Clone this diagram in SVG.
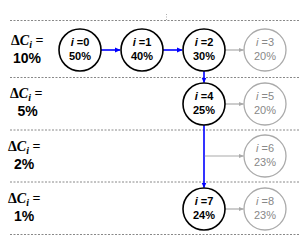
<svg xmlns="http://www.w3.org/2000/svg" width="299" height="248" viewBox="0 0 299 248">
<style>
.dash{stroke:#888;stroke-width:1;stroke-dasharray:2,1.5;fill:none}
.lbl{font-family:"Liberation Serif",serif;font-size:14px;font-weight:bold;fill:#000}
.pct{font-family:"Liberation Sans",Arial,sans-serif;font-size:14px;font-weight:bold;fill:#000;text-anchor:middle}
.nb circle{fill:#fff;stroke:#000;stroke-width:1.6}
.nb text{font-family:"Liberation Sans",Arial,sans-serif;font-size:11px;font-weight:bold;fill:#000;text-anchor:middle}
.ng circle{fill:#fff;stroke:#aaa;stroke-width:1.3}
.ng text{font-family:"Liberation Sans",Arial,sans-serif;font-size:11px;fill:#888;text-anchor:middle}
.blue{stroke:#0000ff;stroke-width:1.6;fill:none}
.gray{stroke:#aaa;stroke-width:1.2;fill:none}
</style>
<defs>
<marker id="ab" markerWidth="6" markerHeight="6" refX="5" refY="3" orient="auto" markerUnits="userSpaceOnUse"><path d="M0,0.5 L5.5,3 L0,5.5 Z" fill="#0000ff"/></marker>
<marker id="ag" markerWidth="6" markerHeight="6" refX="5" refY="3" orient="auto" markerUnits="userSpaceOnUse"><path d="M0,0.8 L5.5,3 L0,5.2 Z" fill="#aaa"/></marker>
</defs>
<g id="grid">
<line class="dash" x1="10" y1="20.5" x2="299" y2="20.5"/>
<line class="dash" x1="10" y1="77.5" x2="299" y2="77.5"/>
<line class="dash" x1="10" y1="130" x2="299" y2="130"/>
<line class="dash" x1="10" y1="182" x2="299" y2="182"/>
<line class="dash" x1="10" y1="234.5" x2="299" y2="234.5"/>
<line x1="166.5" y1="14" x2="166.5" y2="20" stroke="#999" stroke-width="0.8" stroke-dasharray="1,1.5"/>
</g>
<g id="labels">
<text class="lbl" x="11" y="45">Δ<tspan font-style="italic">C</tspan><tspan font-style="italic" font-size="10" dy="3">i</tspan><tspan dy="-3"> =</tspan></text>
<text class="pct" x="27" y="63">10%</text>
<text class="lbl" x="10" y="98">Δ<tspan font-style="italic">C</tspan><tspan font-style="italic" font-size="10" dy="3">i</tspan><tspan dy="-3"> =</tspan></text>
<text class="pct" x="27.5" y="116">5%</text>
<text class="lbl" x="8" y="151">Δ<tspan font-style="italic">C</tspan><tspan font-style="italic" font-size="10" dy="3">i</tspan><tspan dy="-3"> =</tspan></text>
<text class="pct" x="24" y="169">2%</text>
<text class="lbl" x="8" y="203">Δ<tspan font-style="italic">C</tspan><tspan font-style="italic" font-size="10" dy="3">i</tspan><tspan dy="-3"> =</tspan></text>
<text class="pct" x="24" y="221">1%</text>
</g>
<g id="connectors">
<line class="blue" x1="101" y1="50" x2="120" y2="50" marker-end="url(#ab)"/>
<line class="blue" x1="163" y1="50" x2="182" y2="50" marker-end="url(#ab)"/>
<line class="blue" x1="204" y1="71" x2="204" y2="82.5" marker-end="url(#ab)"/>
<line class="blue" x1="204" y1="125" x2="204" y2="187.5" marker-end="url(#ab)"/>
<line class="gray" x1="225" y1="50" x2="243.5" y2="50" marker-end="url(#ag)"/>
<line class="gray" x1="225" y1="104" x2="243.5" y2="104" marker-end="url(#ag)"/>
<line class="gray" x1="204.8" y1="156" x2="243.5" y2="156" marker-end="url(#ag)"/>
<line class="gray" x1="225" y1="209" x2="243.5" y2="209" marker-end="url(#ag)"/>
</g>
<g id="n0" class="nb"><circle cx="80" cy="50" r="21"/><text x="80" y="46"><tspan font-style="italic">i</tspan> =0</text><text x="80" y="60">50%</text></g>
<g id="n1" class="nb"><circle cx="142" cy="50" r="21"/><text x="142" y="46"><tspan font-style="italic">i</tspan> =1</text><text x="142" y="60">40%</text></g>
<g id="n2" class="nb"><circle cx="204" cy="50" r="21"/><text x="204" y="46"><tspan font-style="italic">i</tspan> =2</text><text x="204" y="60">30%</text></g>
<g id="n3" class="ng"><circle cx="265" cy="50" r="21"/><text x="265" y="46"><tspan font-style="italic">i</tspan> =3</text><text x="265" y="60">20%</text></g>
<g id="n4" class="nb"><circle cx="204" cy="104" r="21"/><text x="204" y="100"><tspan font-style="italic">i</tspan> =4</text><text x="204" y="114">25%</text></g>
<g id="n5" class="ng"><circle cx="265" cy="104" r="21"/><text x="265" y="100"><tspan font-style="italic">i</tspan> =5</text><text x="265" y="114">20%</text></g>
<g id="n6" class="ng"><circle cx="265" cy="156" r="21"/><text x="265" y="152"><tspan font-style="italic">i</tspan> =6</text><text x="265" y="166">23%</text></g>
<g id="n7" class="nb"><circle cx="204" cy="209" r="21"/><text x="204" y="205"><tspan font-style="italic">i</tspan> =7</text><text x="204" y="219">24%</text></g>
<g id="n8" class="ng"><circle cx="265" cy="209" r="21"/><text x="265" y="205"><tspan font-style="italic">i</tspan> =8</text><text x="265" y="219">23%</text></g>
</svg>
